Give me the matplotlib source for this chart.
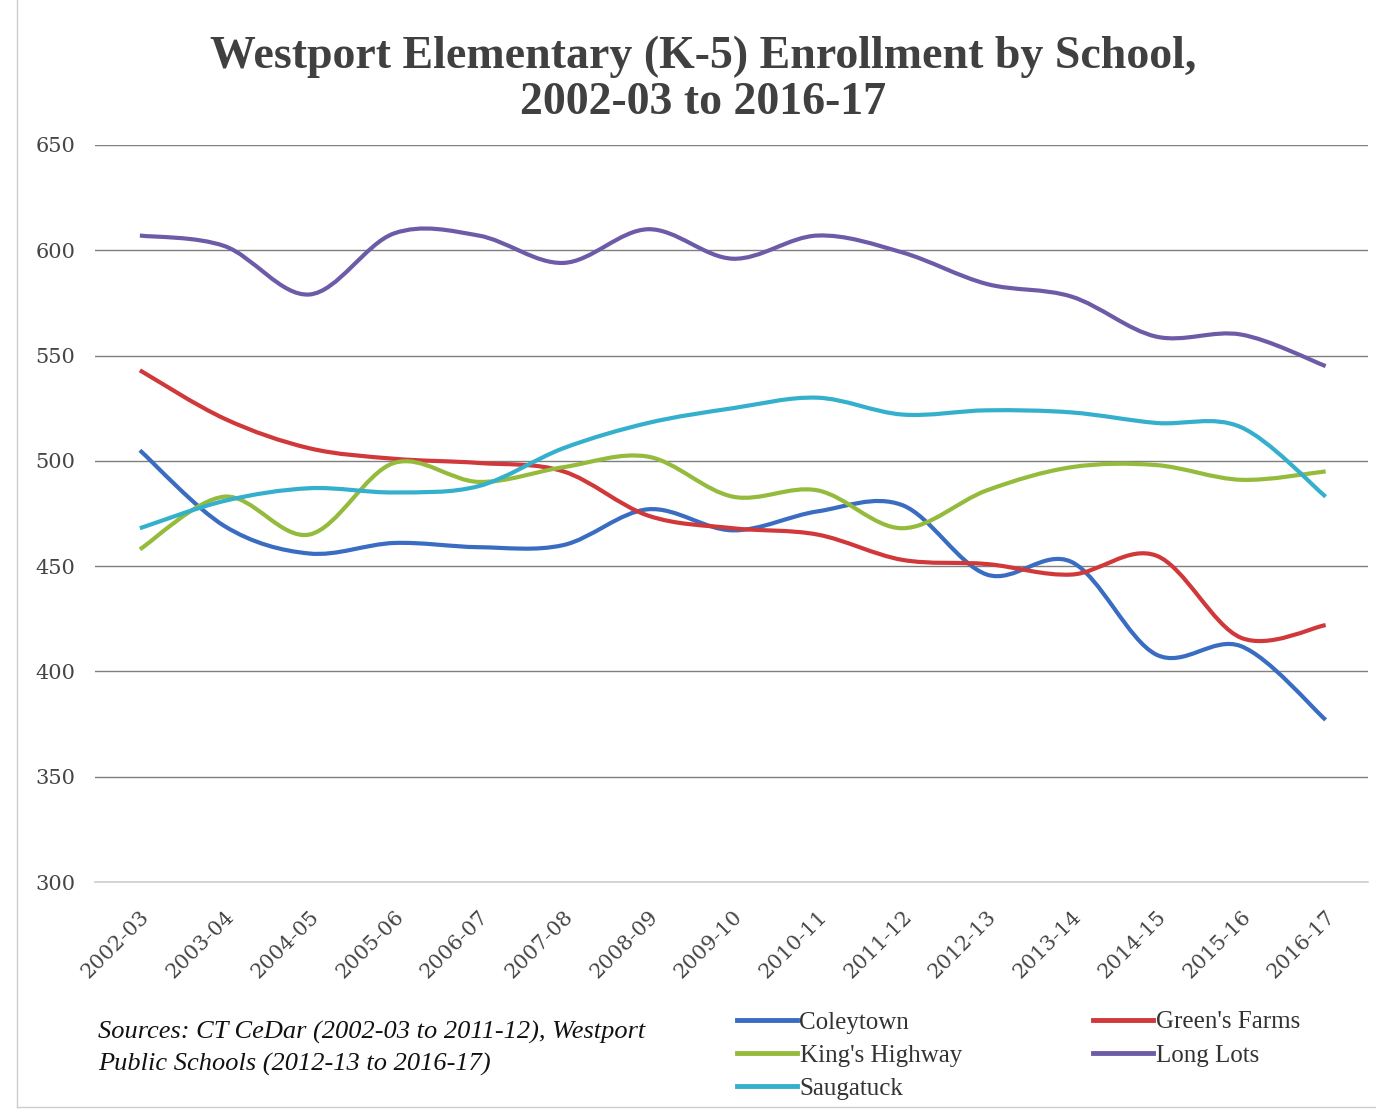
import matplotlib
matplotlib.use("Agg")
import matplotlib.pyplot as plt
from matplotlib.path import Path
from matplotlib.patches import PathPatch
from matplotlib.lines import Line2D
import numpy as np

years = ["2002-03", "2003-04", "2004-05", "2005-06", "2006-07", "2007-08", "2008-09",
         "2009-10", "2010-11", "2011-12", "2012-13", "2013-14", "2014-15", "2015-16", "2016-17"]

coleytown = [505, 469, 456, 461, 459, 460, 477, 467, 476, 479, 446, 452, 408, 412, 377]
greens_farms = [543, 520, 506, 501, 499, 495, 474, 468, 465, 453, 451, 446, 455, 416, 422]
kings_highway = [458, 483, 465, 499, 490, 497, 502, 483, 486, 468, 486, 497, 498, 491, 495]
long_lots = [607, 602, 579, 608, 607, 594, 610, 596, 607, 599, 584, 578, 559, 560, 545]
saugatuck = [468, 481, 487, 485, 488, 506, 518, 525, 530, 522, 524, 523, 518, 516, 483]

series = [
    ("Coleytown", coleytown, "#3a6cc2"),
    ("Green's Farms", greens_farms, "#d1383a"),
    ("King's Highway", kings_highway, "#94bb3c"),
    ("Long Lots", long_lots, "#6e5ba8"),
    ("Saugatuck", saugatuck, "#34b0cc"),
]

yticks = [300, 350, 400, 450, 500, 550, 600, 650]

serif = ["Liberation Serif", "DejaVu Serif"]
serif2 = ["DejaVu Serif"]

fig = plt.figure(figsize=(13.76, 11.09), dpi=100)
ax = fig.add_axes([95 / 1376, 1 - 882 / 1109, (1368 - 95) / 1376, (882 - 145) / 1109])


def smooth_path(xs, ys):
    pts = np.column_stack([xs, ys]).astype(float)
    n = len(pts)
    verts = [pts[0]]
    codes = [Path.MOVETO]
    for i in range(n - 1):
        p0 = pts[i - 1] if i > 0 else pts[i]
        p1 = pts[i]
        p2 = pts[i + 1]
        p3 = pts[i + 2] if i + 2 < n else pts[i + 1]
        c1 = p1 + (p2 - p0) / 6.0
        c2 = p2 - (p3 - p1) / 6.0
        verts += [c1, c2, p2]
        codes += [Path.CURVE4] * 3
    return Path(verts, codes)


x = np.arange(len(years))
handles = []
for name, vals, col in series:
    patch = PathPatch(smooth_path(x, vals), facecolor="none", edgecolor=col,
                      lw=3.0, capstyle="butt", joinstyle="round", zorder=3)
    ax.add_patch(patch)
    handles.append(Line2D([], [], color=col, lw=3.5, label=name))

ax.set_xlim(-0.53, 14.5)
ax.set_ylim(300, 650)
ax.set_yticks(yticks)
ax.set_xticks(x)
ax.set_xticklabels(years, rotation=45, ha="right", rotation_mode="anchor",
                   fontsize=15, family=serif2, color="#454545")
ax.set_yticklabels([str(v) for v in yticks], fontsize=15, family=serif2, color="#454545")
ax.tick_params(axis="both", length=0)
ax.tick_params(axis="y", pad=14)
ax.tick_params(axis="x", pad=18)
ax.grid(axis="y", color="#7f7f7f", lw=1.0)
ax.set_axisbelow(True)
for s in ["top", "right", "left"]:
    ax.spines[s].set_visible(False)
ax.spines["bottom"].set_color("#d0d0d0")
ax.spines["bottom"].set_linewidth(1.2)

fig.text(703 / 1376, 1 - 57 / 1109, "Westport Elementary (K-5) Enrollment by School,",
         ha="center", va="center", fontsize=33, fontweight="bold", family=serif, color="#404040")
fig.text(703 / 1376, 1 - 103 / 1109, "2002-03 to 2016-17",
         ha="center", va="center", fontsize=33, fontweight="bold", family=serif, color="#404040")

fig.text(98 / 1376, 1 - 1032 / 1109, "Sources: CT CeDar (2002-03 to 2011-12), Westport",
         ha="left", va="center", fontsize=19, style="italic", family=serif, color="#111111")
fig.text(98 / 1376, 1 - 1064 / 1109, "Public Schools (2012-13 to 2016-17)",
         ha="left", va="center", fontsize=19, style="italic", family=serif, color="#111111")

leg = fig.legend(handles=[handles[0], handles[2], handles[4], handles[1], handles[3]],
                 loc="upper left", bbox_to_anchor=(727 / 1376, 1 - 1001 / 1109),
                 ncol=2, frameon=False, handlelength=2.4, handletextpad=0.1,
                 columnspacing=5.25, labelspacing=0.43, borderaxespad=0,
                 prop={"family": serif, "size": 18})
for t in leg.get_texts():
    t.set_color("#333333")

fig.add_artist(Line2D([17 / 1376, 17 / 1376], [0.002, 1.0], transform=fig.transFigure,
                      color="#cccccc", lw=1))
fig.add_artist(Line2D([17 / 1376, 1.0], [1 - 1107 / 1109, 1 - 1107 / 1109],
                      transform=fig.transFigure, color="#cccccc", lw=1))

fig.savefig("out.png", dpi=100, facecolor="white")
